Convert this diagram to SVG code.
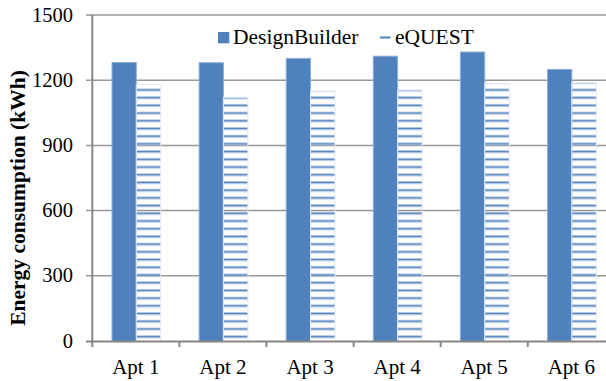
<svg xmlns="http://www.w3.org/2000/svg" width="606" height="381" viewBox="0 0 606 381">
<style>
text{font-family:"Liberation Serif","Times New Roman",serif;fill:#000}
.tick{font-size:20.5px;text-anchor:end}
.cat{font-size:21px;text-anchor:middle}
.leg{font-size:21.5px}
.grid{stroke:#979797;stroke-width:1.5}
.axis{stroke:#868686;stroke-width:2}
.db{fill:#4F81BD;stroke:#8DAEDA;stroke-width:1}
.eq{fill:url(#stripes);stroke:#E4ECF6;stroke-width:1}
</style>
<defs>
<pattern id="stripes" patternUnits="userSpaceOnUse" x="0" y="335.2" width="10" height="7.71">
<rect x="0" y="0" width="10" height="0.8" fill="#B4C8E3"/>
<rect x="0" y="0.8" width="10" height="1.6" fill="#4F81BD"/>
<rect x="0" y="2.4" width="10" height="0.8" fill="#B4C8E3"/>
</pattern>
</defs>
<rect width="606" height="381" fill="#fff"/>
<g id="gridlines">
<line class="grid" x1="86" y1="15" x2="606" y2="15"/>
<line class="grid" x1="86" y1="80.2" x2="606" y2="80.2"/>
<line class="grid" x1="86" y1="145.4" x2="606" y2="145.4"/>
<line class="grid" x1="86" y1="210.6" x2="606" y2="210.6"/>
<line class="grid" x1="86" y1="275.8" x2="606" y2="275.8"/>
</g>
<g id="y-labels">
<text class="tick" x="73" y="21.5">1500</text>
<text class="tick" x="73" y="86.7">1200</text>
<text class="tick" x="73" y="151.9">900</text>
<text class="tick" x="73" y="217.1">600</text>
<text class="tick" x="73" y="282.3">300</text>
<text class="tick" x="73" y="348">0</text>
</g>
<text id="y-title" transform="translate(25,198) rotate(-90)" text-anchor="middle" font-size="21.5" font-weight="bold">Energy consumption (kWh)</text>
<g id="bars-designbuilder">
<rect class="db" x="112" y="62.5" width="24.3" height="279"/>
<rect class="db" x="199.1" y="62.7" width="24.3" height="278.8"/>
<rect class="db" x="286.2" y="58.4" width="24.3" height="283.1"/>
<rect class="db" x="373.3" y="56.2" width="24.3" height="285.3"/>
<rect class="db" x="460.4" y="52" width="24.3" height="289.5"/>
<rect class="db" x="547.5" y="69.4" width="24.3" height="272.1"/>
</g>
<g id="bars-equest">
<rect class="eq" x="136.3" y="84.5" width="24.5" height="257"/>
<rect class="eq" x="223.4" y="97.3" width="24.5" height="244.2"/>
<rect class="eq" x="310.5" y="91" width="24.5" height="250.5"/>
<rect class="eq" x="397.6" y="90" width="24.5" height="251.5"/>
<rect class="eq" x="484.7" y="83.3" width="24.5" height="258.2"/>
<rect class="eq" x="571.8" y="82.7" width="24.5" height="258.8"/>
</g>
<g id="axes">
<line class="axis" x1="92.3" y1="15" x2="92.3" y2="341.5"/>
<line class="axis" x1="86" y1="341.5" x2="606" y2="341.5"/>
<line class="axis" x1="92.3" y1="341.5" x2="92.3" y2="347"/>
<line class="axis" x1="179.4" y1="341.5" x2="179.4" y2="347"/>
<line class="axis" x1="266.5" y1="341.5" x2="266.5" y2="347"/>
<line class="axis" x1="353.6" y1="341.5" x2="353.6" y2="347"/>
<line class="axis" x1="440.7" y1="341.5" x2="440.7" y2="347"/>
<line class="axis" x1="527.8" y1="341.5" x2="527.8" y2="347"/>
</g>
<g id="x-labels">
<text class="cat" x="135.8" y="374">Apt 1</text>
<text class="cat" x="222.9" y="374">Apt 2</text>
<text class="cat" x="310" y="374">Apt 3</text>
<text class="cat" x="397.1" y="374">Apt 4</text>
<text class="cat" x="484.2" y="374">Apt 5</text>
<text class="cat" x="571.3" y="374">Apt 6</text>
</g>
<g id="legend">
<rect x="218" y="32" width="11.3" height="11.3" fill="#4F81BD"/>
<text class="leg" x="233" y="43.5">DesignBuilder</text>
<line x1="380" y1="37.5" x2="390.5" y2="37.5" stroke="#4F81BD" stroke-width="2"/>
<text class="leg" x="395" y="43.5">eQUEST</text>
</g>
</svg>
